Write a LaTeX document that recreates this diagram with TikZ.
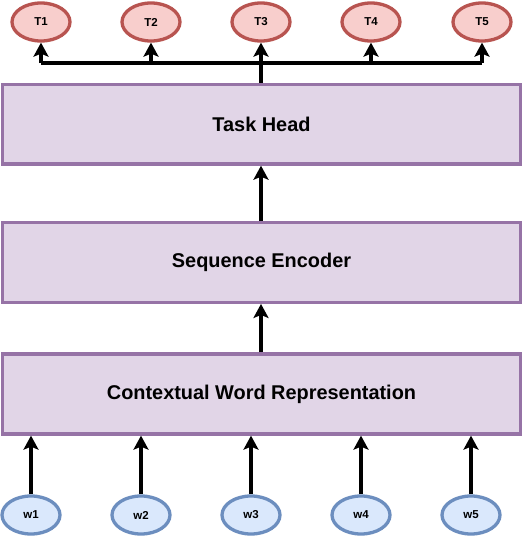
\documentclass[tikz,border=0pt]{standalone}
\usepackage{fontspec}
\setmainfont{Liberation Sans}
\usetikzlibrary{arrows.meta,shapes.geometric}
\definecolor{boxfill}{HTML}{E1D5E7}
\definecolor{boxline}{HTML}{9673A6}
\definecolor{tfill}{HTML}{F8CECC}
\definecolor{tline}{HTML}{B85450}
\definecolor{wfill}{HTML}{DAE8FC}
\definecolor{wline}{HTML}{6C8EBF}
\tikzset{
  layerbox/.style={draw=boxline, fill=boxfill, line width=3.3pt, minimum width=518pt, inner sep=0pt, font=\fontsize{19.9}{23}\selectfont\bfseries},
  tnode/.style={ellipse, draw=tline, fill=tfill, line width=3.3pt, minimum width=58pt, minimum height=38pt, inner sep=0pt, font=\fontsize{11.5}{13}\selectfont\bfseries},
  wnode/.style={ellipse, draw=wline, fill=wfill, line width=3.3pt, minimum width=58pt, minimum height=38pt, inner sep=0pt, font=\fontsize{11.5}{13}\selectfont\bfseries},
  arr/.style={line width=3.5pt, -{Stealth[length=14pt, width=15pt, inset=3pt]}},
  busline/.style={line width=3.5pt}
}
\begin{document}
\begin{tikzpicture}[x=1pt,y=-1pt]
\useasboundingbox (0,0) rectangle (523,536);
% boxes
\node[layerbox, minimum height=79.5pt] (head) at (261.5,124.3) {Task Head};
\node[layerbox, minimum height=80pt] (enc) at (261.5,262.3) {Sequence Encoder};
\node[layerbox, minimum height=80pt] (ctx) at (261.5,394) {Contextual Word Representation};
% top ellipses
\node[tnode] (t1) at (41,22) {T1};
\node[tnode] (t2) at (151,22) {T2};
\node[tnode] (t3) at (261,22) {T3};
\node[tnode] (t4) at (371,22) {T4};
\node[tnode] (t5) at (482,22) {T5};
% bottom ellipses
\node[wnode] (w1) at (31,515) {w1};
\node[wnode] (w2) at (141,515) {w2};
\node[wnode] (w3) at (251,515) {w3};
\node[wnode] (w4) at (361,515) {w4};
\node[wnode] (w5) at (471,515) {w5};
% bus
\coordinate (bl) at (41,63);
\coordinate (br) at (482,63);
\draw[busline] (bl -| t1) -- (br -| t5);
\draw[busline] (head.north -| t3) -- (bl -| t3);
\foreach \t in {t1,t2,t3,t4,t5}{
  \draw[arr] (bl -| \t) -- (\t.south);
}
% vertical arrows
\draw[arr] (enc.north -| 261,0) -- (head.south -| 261,0);
\draw[arr] (ctx.north -| 261,0) -- (enc.south -| 261,0);
\foreach \w in {w1,w2,w3,w4,w5}{
  \draw[arr] (\w.north) -- (\w.north |- ctx.south);
}
\end{tikzpicture}
\end{document}
